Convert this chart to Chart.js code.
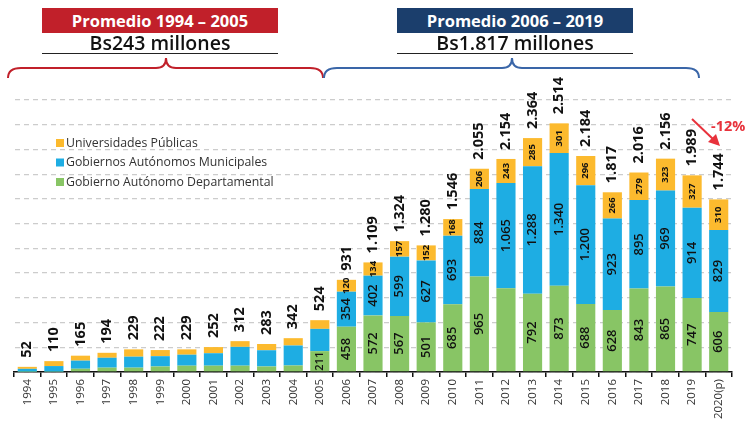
<!DOCTYPE html>
<html>
<head>
<meta charset="utf-8">
<script src="https://cdn.jsdelivr.net/npm/chart.js@4.4.0/dist/chart.umd.min.js"></script>
<style>
    body { margin: 0; background: #fff; font-family: "Open Sans", sans-serif; }
    #wrap { position: relative; width: 745px; height: 423px; }
    .box { position: absolute; top: 8px; width: 236px; height: 25px; line-height: 25px; color: #fff; text-align: center; font-weight: 700; font-size: 16.5px; }
    .sub { position: absolute; top: 32px; width: 236px; height: 21px; line-height: 22px; text-align: center; font-weight: 600; font-size: 19.5px; color: #111; border-bottom: 1.5px solid #222; }
</style>
</head>
<body>
<div id="wrap">
    <canvas id="aportes"></canvas>
    <div class="box" style="left:42px; background:#C1202A;">Promedio 1994 – 2005</div>
    <div class="sub" style="left:42px;">Bs243 millones</div>
    <div class="box" style="left:397px; background:#1B3E6C;">Promedio 2006 – 2019</div>
    <div class="sub" style="left:397px;">Bs1.817 millones</div>
</div>
<script>
var years = ['1994', '1995', '1996', '1997', '1998', '1999', '2000', '2001', '2002', '2003', '2004', '2005', '2006',
    '2007', '2008', '2009', '2010', '2011', '2012', '2013', '2014', '2015', '2016', '2017', '2018', '2019', '2020(p)'];
var departamental = [2, 3, 33, 44, 44, 56, 64, 64, 64, 56, 66, 211, 458, 572, 567, 501, 685, 965, 846, 792, 873, 688, 628, 843, 865, 747, 606];
var municipales = [30, 57, 82, 100, 111, 104, 111, 126, 190, 164, 202, 225, 354, 402, 599, 627, 693, 884, 1065, 1288, 1340, 1200, 923, 895, 969, 914, 829];
var universidades = [20, 50, 50, 50, 74, 62, 54, 62, 58, 63, 74, 88, 120, 134, 157, 152, 168, 206, 243, 285, 301, 296, 266, 279, 323, 327, 310];
var totales = [52, 110, 165, 194, 229, 222, 229, 252, 312, 283, 342, 524, 931, 1109, 1324, 1280, 1546, 2055, 2154, 2364, 2514, 2184, 1817, 2016, 2156, 1989, 1744];

function fmt(v) {
    return String(v).replace(/\B(?=(\d{3})+(?!\d))/g, '.');
}

// which segment labels are printed
function showSeg(ds, i) {
    if (ds == 0) return i >= 11 && years[i] != '2012';
    return i >= 12;
}

var labelsPlugin = {
    id: 'labels',
    afterDatasetsDraw: function(chart) {
        var ctx = chart.ctx;
        ctx.save();
        ctx.fillStyle = '#111';
        ctx.textBaseline = 'middle';
        chart.data.datasets.forEach(function(ds, d) {
            var meta = chart.getDatasetMeta(d);
            meta.data.forEach(function(el, i) {
                if (!showSeg(d, i)) return;
                var size = d == 2 ? 9.5 : (d == 0 && i == 11 ? 11 : 13);
                ctx.font = (d == 2 ? '700 ' : '600 ') + size + 'px "Open Sans"';
                ctx.textAlign = 'center';
                ctx.save();
                ctx.translate(el.x, (el.y + el.base) / 2);
                ctx.rotate(-Math.PI / 2);
                ctx.fillText(fmt(ds.data[i]), 0, 0);
                ctx.restore();
            });
        });
        var top = chart.getDatasetMeta(2);
        ctx.font = '700 14.5px "Open Sans"';
        ctx.textAlign = 'left';
        top.data.forEach(function(el, i) {
            ctx.save();
            ctx.translate(el.x, el.y - 9);
            ctx.rotate(-Math.PI / 2);
            ctx.fillText(fmt(totales[i]), 0, 0);
            ctx.restore();
        });
        ctx.restore();
    },
    afterDraw: function(chart) {
        var ctx = chart.ctx;
        ctx.save();
        // legend
        ctx.font = '12.3px "Open Sans"';
        ctx.textBaseline = 'middle';
        ctx.textAlign = 'left';
        [2, 1, 0].forEach(function(d, k) {
            var ds = chart.data.datasets[d];
            var y = 143 + k * 19.5;
            ctx.fillStyle = ds.backgroundColor;
            ctx.fillRect(56, y - 4, 8, 8);
            ctx.fillStyle = '#333';
            ctx.fillText(ds.label, 66, y);
        });
        // braces
        ctx.lineWidth = 2;
        function brace(x0, xm, x1, color) {
            ctx.strokeStyle = color;
            ctx.beginPath();
            ctx.moveTo(x0, 78);
            ctx.quadraticCurveTo(x0, 68, x0 + 13, 68);
            ctx.lineTo(xm - 10, 68);
            ctx.quadraticCurveTo(xm, 68, xm, 58);
            ctx.quadraticCurveTo(xm, 68, xm + 10, 68);
            ctx.lineTo(x1 - 13, 68);
            ctx.quadraticCurveTo(x1, 68, x1, 78);
            ctx.stroke();
        }
        brace(8, 166, 323, '#C1202A');
        brace(324, 512, 699, '#3A66A8');
        // variation arrow
        ctx.strokeStyle = '#E8323C';
        ctx.fillStyle = '#E8323C';
        ctx.beginPath();
        ctx.moveTo(692, 119);
        ctx.lineTo(714, 140);
        ctx.stroke();
        ctx.beginPath();
        ctx.moveTo(720, 146);
        ctx.lineTo(708, 142);
        ctx.lineTo(716, 134);
        ctx.closePath();
        ctx.fill();
        ctx.font = '700 14.5px "Open Sans"';
        ctx.fillText('-12%', 711, 127);
        ctx.restore();
    }
};

new Chart(document.getElementById('aportes').getContext('2d'), {
    type: 'bar',
    data: {
        labels: years,
        datasets: [
            { label: 'Gobierno Autónomo Departamental', data: departamental, backgroundColor: '#88C565' },
            { label: 'Gobiernos Autónomos Municipales', data: municipales, backgroundColor: '#1EADE3' },
            { label: 'Universidades Públicas', data: universidades, backgroundColor: '#FCBA2E' }
        ]
    },
    options: {
        responsive: true,
        maintainAspectRatio: false,
        animation: false,
        layout: { padding: { top: 100, left: 14, right: 13, bottom: 0 } },
        datasets: { bar: { barPercentage: 0.72, categoryPercentage: 1 } },
        plugins: { legend: { display: false }, tooltip: { enabled: false } },
        scales: {
            x: {
                stacked: true,
                afterFit: function(s) { s.height = 51; },
                border: { display: true, color: '#111', width: 1.5 },
                grid: { display: true, drawOnChartArea: false, drawTicks: true, tickLength: 5, color: '#111', lineWidth: 1.5 },
                ticks: { minRotation: 90, maxRotation: 90, padding: 2, color: '#333', font: { family: 'Open Sans', size: 11.5 } }
            },
            y: {
                stacked: true,
                min: 0,
                max: 2750,
                afterFit: function(s) { s.width = 0; },
                border: { display: true, color: 'rgba(0,0,0,0)', dash: [5, 4] },
                grid: { color: '#cccccc', lineWidth: 1.3, drawTicks: false },
                ticks: { display: false, stepSize: 250 }
            }
        }
    },
    plugins: [labelsPlugin]
});
</script>
</body>
</html>
